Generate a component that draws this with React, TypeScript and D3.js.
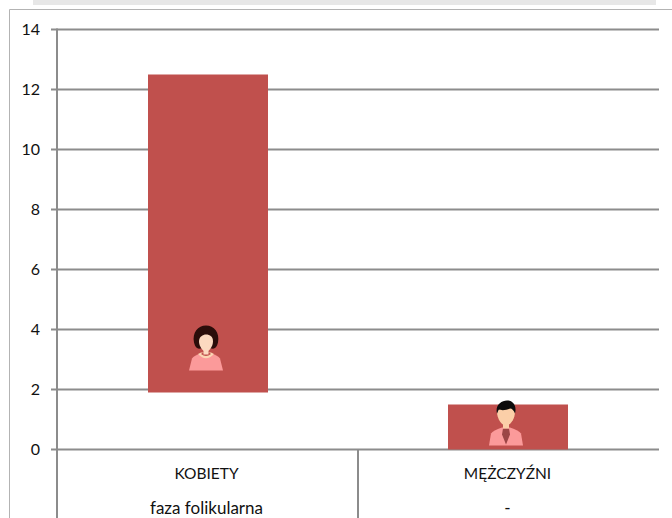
import React from "react";
import * as d3 from "d3";

const categories = ["KOBIETY", "MĘŻCZYŹNI"];
const subLabels = ["faza folikularna", "-"];
const barLow = [1.9, 0];
const barHigh = [12.5, 1.5];
const yTicks = [0, 2, 4, 6, 8, 10, 12, 14];

const W = 672, H = 518;
const axisX = 57, rightX = 659, topY = 29.5, zeroY = 449.5;
const GRID = "#8c8c8c";
const BAR = "#c0504d";
const FONT = "Lato, 'Open Sans', sans-serif";

const y = d3.scaleLinear().domain([0, 14]).range([zeroY, topY]);
const x = d3.scaleBand<string>().domain(categories).range([58, 658]).paddingInner(0.6).paddingOuter(0.3);
const outer = d3.scaleBand<string>().domain(categories).range([axisX, 659]);

function Woman({ cx, base }: { cx: number; base: number }) {
  return (
    <g transform={`translate(${cx},${base})`}>
      <path d="M-17,0 L-14,-12 Q-12,-15 -5,-17 L5,-17 Q12,-15 14,-12 L17,0 Z" fill="#fb9a9a" />
      <path d="M-8,-16.5 Q0,-8 8,-16.5 L5,-18 L-5,-18 Z" fill="#fbd6b4" />
      <path d="M-5,-16.5 Q0,-12.5 5,-16.5 L3,-18 L-3,-18 Z" fill={BAR} />
      <path d="M-12,-28 C-14,-38 -8,-45 0,-45 C8,-45 14,-38 12,-28 C11,-23 8,-21 6,-22 L-6,-22 C-8,-21 -11,-23 -12,-28 Z" fill="#2b0d0a" />
      <path d="M-7,-29 C-7,-34 -3,-36 0,-36 C4,-36 7,-34 7,-29 C7,-24 3,-19 0,-19 C-3,-19 -7,-24 -7,-29 Z" fill="#fcd9c0" />
      <rect x={-2.5} y={-21} width={5} height={5} fill="#fcd9c0" />
    </g>
  );
}

function Man({ cx, base }: { cx: number; base: number }) {
  return (
    <g transform={`translate(${cx},${base})`}>
      <path d="M-17,0 L-15,-12 Q-13,-15 -4,-18 L4,-18 Q13,-15 15,-12 L17,0 Z" fill="#fb9a9a" />
      <path d="M-3,-17 L3,-17 L4,-11 L0,-1 L-4,-11 Z" fill="#9c4545" />
      <rect x={-3} y={-22} width={6} height={5} fill="#fbcfa8" />
      <path d="M-9,-34 C-9,-40 9,-40 9,-34 C9,-26 4,-20 0,-20 C-4,-20 -9,-26 -9,-34 Z" fill="#fbcfa8" />
      <path d="M-9,-32 C-11,-40 -5,-45 1,-45 C7,-45 11,-40 9,-32 C8,-35 6,-37 4,-37 C0,-35 -5,-35 -7,-36 C-8,-35 -8,-34 -9,-32 Z" fill="#0c0c0c" />
    </g>
  );
}

export default function App() {
  return (
    <svg width={W} height={H} style={{ position: "absolute", left: 0, top: 0, background: "#fff" }} fontFamily={FONT}>
      <rect x={33} y={0} width={623} height={5} fill="#e7e7e7" />
      <path d={`M${W},9.5 H9.5 V${H}`} fill="none" stroke="#b3b3b3" strokeWidth={1} />

      {yTicks.map((t) => (
        <g key={t}>
          <line x1={51} x2={rightX} y1={y(t)} y2={y(t)} stroke={GRID} strokeWidth={2} />
          <text x={40} y={y(t) + 5.5} textAnchor="end" fontSize={16} fill="#111">{t}</text>
        </g>
      ))}

      {categories.map((c, i) => (
        <rect key={c} x={x(c)!} width={x.bandwidth()} y={y(barHigh[i])} height={y(barLow[i]) - y(barHigh[i])} fill={BAR} />
      ))}

      <line x1={axisX} x2={axisX} y1={topY - 1} y2={H} stroke={GRID} strokeWidth={2} />
      <line x1={outer(categories[1])!} x2={outer(categories[1])!} y1={zeroY} y2={H} stroke={GRID} strokeWidth={2} />

      <Woman cx={x(categories[0])! + x.bandwidth() / 2 - 2} base={y(barLow[0]) - 22} />
      <Man cx={x(categories[1])! + x.bandwidth() / 2 - 2} base={y(0) - 4} />

      {categories.map((c, i) => {
        const cx = outer(c)! + outer.bandwidth() / 2 - 1;
        return (
          <g key={c} textAnchor="middle" fill="#111">
            <text x={cx} y={479} fontSize={15.5}>{c}</text>
            <text x={cx} y={514} fontSize={17}>{subLabels[i]}</text>
          </g>
        );
      })}
    </svg>
  );
}
